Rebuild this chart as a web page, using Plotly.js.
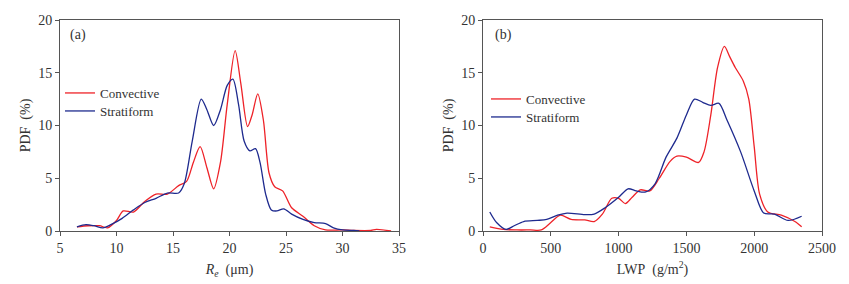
<!DOCTYPE html>
<html><head><meta charset="utf-8">
<script src="https://cdn.plot.ly/plotly-3.0.1.min.js"></script>
<style>body{margin:0;background:#fff}#c{width:849px;height:284px}</style>
</head><body><div id="c"></div>
<script>
// Panel (a): Re (µm)
const reConvX = [6.5,7.5,8.5,9.2,10,10.6,11.5,12.5,13.5,14.5,15.5,16.2,16.8,17.4,18,18.6,19.2,19.8,20.5,21.0,21.6,22.0,22.5,23.0,23.5,24.0,24.7,25.5,26.5,27.5,28.5,30,31,32.5,33,34.3];
const reConvY = [0.4,0.5,0.5,0.3,1.0,1.9,1.8,2.8,3.5,3.5,4.3,4.7,6.5,8.0,6.0,4.0,6.5,12,17.1,14,9.9,11,13.0,10.5,5.5,4.2,3.8,2.2,1.4,0.5,0.1,0.1,0.05,0.05,0.15,0.0];
const reStraX = [6.5,7.3,8.0,8.8,9.5,10.5,11.5,12.5,13.5,14.5,15.5,16,16.7,17.5,18.0,18.6,19.2,19.8,20.3,20.8,21.3,21.8,22.3,22.7,23.2,23.7,24.2,24.8,25.5,26.5,27.5,28.5,29.2,30,31,31.5];
const reStraY = [0.4,0.6,0.5,0.3,0.6,1.2,2.0,2.7,3.1,3.6,3.6,4.5,8.5,12.5,11.5,10.0,11.5,13.8,14.4,12,8.5,7.6,7.8,6.5,3.5,2.0,1.9,2.1,1.6,1.1,0.8,0.7,0.3,0.1,0.05,0];
// Panel (b): LWP (g/m2)
const lwpConvX = [50,150,250,350,430,500,570,650,750,820,880,950,1000,1050,1100,1160,1230,1300,1380,1430,1500,1590,1630,1680,1730,1780,1820,1860,1920,1960,2000,2040,2100,2200,2300,2350];
const lwpConvY = [0.4,0.15,0.1,0.1,0.1,0.8,1.5,1.1,1.05,0.9,1.6,3.1,3.1,2.6,3.2,3.9,3.8,5.0,6.6,7.1,7.0,6.5,7.5,11,15.5,17.5,16.5,15.5,14.2,12.5,8,3.5,1.8,1.5,0.9,0.4];
const lwpStraX = [50,100,170,230,300,400,470,550,620,750,820,900,1000,1070,1130,1200,1270,1350,1430,1500,1560,1620,1680,1740,1800,1900,2000,2070,2150,2250,2350];
const lwpStraY = [1.8,0.8,0.15,0.5,0.9,1.0,1.1,1.5,1.7,1.55,1.6,2.2,3.2,4.0,3.8,3.7,4.5,7.0,8.8,11.0,12.5,12.2,11.9,12.1,10.5,7.5,3.8,1.7,1.6,1.0,1.4];
const seriesNames = ['Convective','Stratiform'];
const panelLabels = ['(a)','(b)'];

const RED = '#ee2228', BLUE = '#1e2a8e';
const F = 'Liberation Serif, Times New Roman, serif';
const ln = c => ({color:c, width:1.3, shape:'spline', smoothing:0.8});

const traces = [
  {x:reConvX, y:reConvY, name:seriesNames[0], mode:'lines', line:ln(RED), xaxis:'x', yaxis:'y', legend:'legend'},
  {x:reStraX, y:reStraY, name:seriesNames[1], mode:'lines', line:ln(BLUE), xaxis:'x', yaxis:'y', legend:'legend2'},
  {x:lwpConvX, y:lwpConvY, name:seriesNames[0], mode:'lines', line:ln(RED), xaxis:'x2', yaxis:'y2', legend:'legend3'},
  {x:lwpStraX, y:lwpStraY, name:seriesNames[1], mode:'lines', line:ln(BLUE), xaxis:'x2', yaxis:'y2', legend:'legend4'}
];

const W = 849, TOP = 20, PH = 211;
const ax = (extra) => Object.assign({
  showgrid:false, zeroline:false, showline:true, mirror:true, linecolor:'#555', linewidth:1,
  ticks:'outside', ticklen:4, tickcolor:'#555', tickfont:{family:F, size:14, color:'#333'}
}, extra);

const leg = (xpx, ypx) => ({x:xpx/W, xref:'paper', y:(TOP+PH-ypx)/PH, xanchor:'left', yanchor:'middle',
  bgcolor:'rgba(0,0,0,0)', borderwidth:0, font:{family:F, size:13, color:'#333'}, itemwidth:30});
const tf = {family:F, size:14, color:'#333'};

const layout = {
  width:849, height:284, margin:{l:0, r:0, t:TOP, b:53},
  paper_bgcolor:'#fff', plot_bgcolor:'#fff', showlegend:true,
  xaxis: ax({domain:[60/W, 399/W], range:[5,35], dtick:5, anchor:'y',
    title:{text:'<i>R</i><sub><i>e</i></sub>\u2002(μm)', font:tf, standoff:9}}),
  yaxis: ax({domain:[0,1], range:[0,20], dtick:5, anchor:'x',
    title:{text:'PDF\u2002(%)', font:tf, standoff:4}}),
  xaxis2: ax({domain:[483/W, 822/W], range:[0,2500], dtick:500, anchor:'y2',
    title:{text:'LWP\u2002(g/m<sup>2</sup>)', font:tf, standoff:9}}),
  yaxis2: ax({domain:[0,1], range:[0,20], dtick:5, anchor:'x2',
    title:{text:'PDF\u2002(%)', font:tf, standoff:4}}),
  legend: leg(60, 93),
  legend2: leg(60, 111),
  legend3: leg(486, 99),
  legend4: leg(486, 117),
  annotations: [
    {text:panelLabels[0], xref:'x domain', yref:'y domain', x:0.025, y:0.93, xanchor:'left', yanchor:'middle', showarrow:false, font:tf},
    {text:panelLabels[1], xref:'x2 domain', yref:'y2 domain', x:0.03, y:0.93, xanchor:'left', yanchor:'middle', showarrow:false, font:tf}
  ]
};

Plotly.newPlot('c', traces, layout, {displayModeBar:false, staticPlot:true});
</script></body></html>
